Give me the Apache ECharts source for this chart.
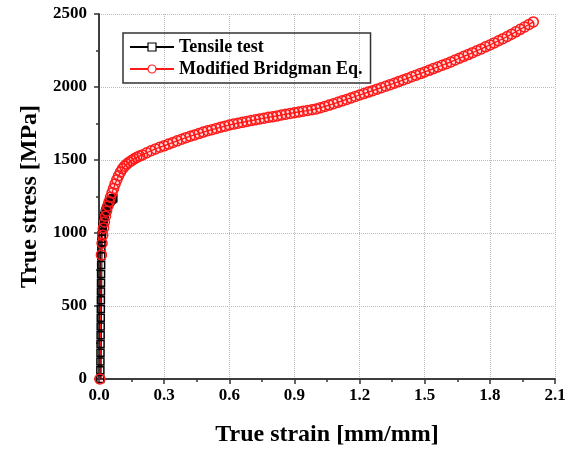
<!DOCTYPE html>
<html>
<head>
<meta charset="utf-8">
<script src="https://cdn.jsdelivr.net/npm/echarts@6/dist/echarts.min.js"></script>
<style>
  html, body { margin: 0; padding: 0; background: #fff; }
  #chart { width: 571px; height: 452px; }
</style>
</head>
<body>
<div id="chart"></div>
<script>
// data
var tensileStrain = [0.0060, 0.0063, 0.0066, 0.0069, 0.0072, 0.0075, 0.0078, 0.0081, 0.0084, 0.0087, 0.0090, 0.0093, 0.0096,
  0.0099, 0.0103, 0.0108, 0.0114, 0.0121, 0.0130, 0.0140, 0.0152, 0.0166, 0.0182, 0.0200, 0.0220, 0.0242, 0.0266,
  0.0292, 0.0320, 0.0350, 0.0382, 0.0416, 0.0452, 0.0490, 0.0530, 0.0572, 0.0616, 0.0660];
var tensileStress = [0, 60, 120, 180, 240, 300, 360, 420, 480, 540, 600, 660, 720,
  780, 840, 890, 930, 960, 985, 1008, 1030, 1050, 1068, 1085, 1101, 1116, 1131,
  1145, 1158, 1170, 1182, 1193, 1203, 1212, 1220, 1227, 1233, 1238];

var bridgmanStrain = [0.004, 0.011, 0.014, 0.017, 0.021, 0.025, 0.030, 0.035, 0.041, 0.047, 0.053,
  0.060, 0.067, 0.074, 0.082, 0.090, 0.099, 0.108, 0.118, 0.128, 0.139, 0.150, 0.162, 0.174, 0.187,
  0.20, 0.22, 0.24, 0.26, 0.28, 0.30, 0.32, 0.34, 0.36, 0.38, 0.40, 0.42, 0.44, 0.46, 0.48,
  0.50, 0.52, 0.54, 0.56, 0.58, 0.60, 0.62, 0.64, 0.66, 0.68, 0.70, 0.72, 0.74, 0.76, 0.78,
  0.80, 0.82, 0.84, 0.86, 0.88, 0.90, 0.92, 0.94, 0.96, 0.98, 1.00, 1.02, 1.04, 1.06, 1.08,
  1.10, 1.12, 1.14, 1.16, 1.18, 1.20, 1.22, 1.24, 1.26, 1.28, 1.30, 1.32, 1.34, 1.36, 1.38,
  1.40, 1.42, 1.44, 1.46, 1.48, 1.50, 1.52, 1.54, 1.56, 1.58, 1.60, 1.62, 1.64, 1.66, 1.68,
  1.70, 1.72, 1.74, 1.76, 1.78, 1.80, 1.82, 1.84, 1.86, 1.88, 1.90, 1.92, 1.94, 1.96, 1.98, 2.00];
var bridgmanStress = [0, 850, 930, 985, 1035, 1075, 1115, 1150, 1185, 1215, 1245,
  1275, 1305, 1335, 1365, 1392, 1418, 1440, 1458, 1472, 1485, 1496, 1508, 1518, 1527,
  1535, 1550, 1563, 1576, 1587, 1597, 1609, 1620, 1631, 1642, 1653, 1663, 1672, 1681, 1691,
  1700, 1708, 1716, 1724, 1732, 1740, 1746, 1752, 1758, 1764, 1770, 1775, 1781, 1786, 1792,
  1797, 1802, 1808, 1813, 1819, 1824, 1829, 1834, 1839, 1844, 1850, 1858, 1867, 1876, 1885,
  1895, 1905, 1915, 1925, 1935, 1945, 1955, 1965, 1975, 1985, 1995, 2005, 2016, 2026, 2037,
  2048, 2059, 2070, 2081, 2092, 2103, 2114, 2126, 2137, 2149, 2160, 2172, 2185, 2197, 2210,
  2222, 2235, 2248, 2261, 2275, 2288, 2302, 2317, 2331, 2346, 2362, 2378, 2395, 2411, 2428, 2446];

var xTicks = { min: 0, max: 2.1, interval: 0.3 };
var yTicks = { min: 0, max: 2500, interval: 500 };

function pairs(xs, ys) {
    return xs.map(function (x, i) { return [x, ys[i]]; });
}

var chart = echarts.init(document.getElementById('chart'));
var font = 'Liberation Serif';
var axisLine = { lineStyle: { color: '#333', width: 1.5 } };
var tick = { color: '#333', width: 1.5 };

var option = {
    backgroundColor: '#fff',
    animation: false,
    textStyle: { fontFamily: font, color: '#000' },
    grid: { left: 99, right: 16, top: 14, bottom: 71 },
    legend: {
        left: 123, top: 33,
        orient: 'vertical',
        borderColor: '#333', borderWidth: 1.5,
        padding: [5, 8, 5, 6],
        itemGap: 4,
        itemWidth: 44, itemHeight: 10,
        textStyle: { fontFamily: font, fontWeight: 'bold', fontSize: 18, color: '#000' },
        data: [
            { name: 'Tensile test', itemStyle: { color: '#fff', borderColor: '#000', borderWidth: 1.2 } },
            { name: 'Modified Bridgman Eq.', itemStyle: { color: '#fff', borderColor: '#ff1a1a', borderWidth: 1.2 } }
        ]
    },
    xAxis: [{
        type: 'value', min: xTicks.min, max: xTicks.max, interval: xTicks.interval,
        name: 'True strain [mm/mm]', nameLocation: 'middle', nameGap: 44,
        nameTextStyle: { fontFamily: font, fontWeight: 'bold', fontSize: 24, color: '#000' },
        axisLine: axisLine,
        axisTick: { length: 5, lineStyle: tick },
        minorTick: { show: true, splitNumber: 2, length: 3, lineStyle: tick },
        axisLabel: { fontFamily: font, fontWeight: 'bold', fontSize: 17, color: '#000', margin: 8,
            formatter: function (v) { return v.toFixed(1); } },
        splitLine: { show: true, lineStyle: { color: '#bbb', type: 'dotted', width: 1 } }
    }, {
        type: 'value', position: 'top', min: xTicks.min, max: xTicks.max, interval: xTicks.interval,
        axisLine: axisLine,
        axisTick: { inside: true, length: 5, lineStyle: tick },
        minorTick: { show: true, splitNumber: 2, length: 3, lineStyle: tick },
        axisLabel: { show: false },
        splitLine: { show: false }
    }],
    yAxis: [{
        type: 'value', min: yTicks.min, max: yTicks.max, interval: yTicks.interval,
        name: 'True stress [MPa]', nameLocation: 'middle', nameGap: 57,
        nameTextStyle: { fontFamily: font, fontWeight: 'bold', fontSize: 24, color: '#000' },
        axisLine: Object.assign({ show: true }, axisLine),
        axisTick: { show: true, length: 5, lineStyle: tick },
        minorTick: { show: true, splitNumber: 2, length: 3, lineStyle: tick },
        axisLabel: { fontFamily: font, fontWeight: 'bold', fontSize: 17, color: '#000', margin: 12,
            formatter: function (v) { return String(v); } },
        splitLine: { show: true, lineStyle: { color: '#bbb', type: 'dotted', width: 1 } }
    }, {
        type: 'value', position: 'right', min: yTicks.min, max: yTicks.max, interval: yTicks.interval,
        axisLine: Object.assign({ show: true }, axisLine),
        axisTick: { show: true, inside: true, length: 5, lineStyle: tick },
        minorTick: { show: true, splitNumber: 2, length: 3, lineStyle: tick },
        axisLabel: { show: false },
        splitLine: { show: false }
    }],
    series: [{
        name: 'Tensile test',
        type: 'line',
        data: pairs(tensileStrain, tensileStress),
        symbol: 'rect', symbolSize: 7, showAllSymbol: true,
        itemStyle: { color: 'rgba(0,0,0,0)', borderColor: '#000', borderWidth: 1.5 },
        lineStyle: { color: '#000', width: 2.5 }
    }, {
        name: 'Modified Bridgman Eq.',
        type: 'line',
        data: pairs(bridgmanStrain, bridgmanStress),
        symbol: 'circle', symbolSize: 10, showAllSymbol: true,
        itemStyle: { color: 'rgba(255,0,0,0.08)', borderColor: '#ff1a1a', borderWidth: 1.5 },
        lineStyle: { color: '#ff1a1a', width: 1.2 }
    }]
};

chart.setOption(option);
</script>
</body>
</html>
